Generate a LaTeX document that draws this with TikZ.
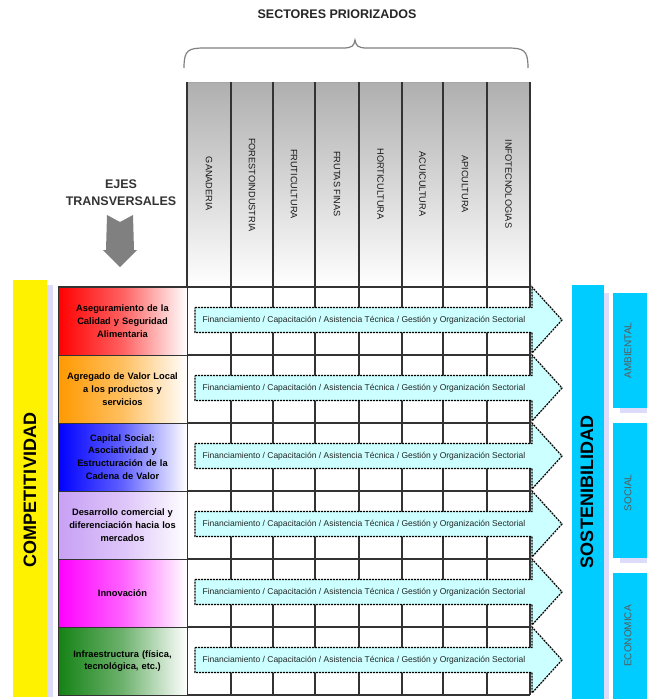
\documentclass[tikz,border=0pt]{standalone}
\usepackage{fontspec}
\setmainfont{Liberation Sans}
\definecolor{hdrgray}{RGB}{175,175,175}
\definecolor{arrowfill}{RGB}{204,255,255}
\definecolor{sosblue}{RGB}{0,204,255}
\definecolor{shadowlav}{RGB}{220,220,250}
\definecolor{rowred}{RGB}{255,0,0}
\definecolor{roworange}{RGB}{255,153,0}
\definecolor{rowblue}{RGB}{0,0,255}
\definecolor{rowlav}{RGB}{200,160,245}
\definecolor{rowmag}{RGB}{255,0,255}
\definecolor{rowgreen}{RGB}{20,130,20}
\begin{document}
\begin{tikzpicture}[x=1pt,y=-1pt,
  gridline/.style={line width=1.2pt,black!80},
  rowlab/.style={draw=black!80,line width=1pt,minimum width=129pt,minimum height=68pt,inner sep=1pt,
     left color=#1,right color=white,middle color=#1!62!white,
     align=center,font=\bfseries\fontsize{9.3}{12.8}\selectfont,text width=127pt},
  colhead/.style={rotate=-90,font=\fontsize{9.2}{9.2}\selectfont,text=black!90},
  flowarrow/.style={fill=arrowfill,draw=black,line width=1.2pt,dash pattern=on 2pt off 1pt},
  flowtext/.style={font=\fontsize{8.5}{8.5}\selectfont,text=black!85,inner sep=0pt},
  bigtext/.style={rotate=90,font=\bfseries\fontsize{18}{18}\selectfont},
  smalltext/.style={rotate=90,font=\fontsize{10}{10}\selectfont,text=black!65},
]
\useasboundingbox (0,0) rectangle (647,699);

% title and brace
\node[font=\bfseries\fontsize{12.5}{12.5}\selectfont,text=black!85] (title) at (337,14) {SECTORES PRIORIZADOS};
\draw[gray,line width=1.2pt] (184,68) .. controls (184,50) and (188,48) .. (205,48) -- (343,48)
  .. controls (352,48) and (354,46) .. (355,40) .. controls (356,46) and (358,48) .. (367,48)
  -- (507,48) .. controls (524,48) and (528,50) .. (528,68);

% header shading
\shade[top color=hdrgray,bottom color=white] (187,82) rectangle (530,287);
\draw[black!35,line width=1pt] (187,82) -- (530,82);

% grid
\foreach \x in {187,231,273,315,359,402,443,487,530}
  \draw[gridline] (\x,82) -- (\x,695);
\foreach \y in {287,355,423,491,559,627,695}
  \draw[gridline] (58,\y) -- (530,\y);

% column headers
\node[colhead] (c1) at (209,184) {GANADERIA};
\node[colhead] (c2) at (252,185) {FORESTOINDUSTRIA};
\node[colhead] (c3) at (294,184) {FRUTICULTURA};
\node[colhead] (c4) at (337,184) {FRUTAS FINAS};
\node[colhead] (c5) at (380.5,184) {HORTICULTURA};
\node[colhead] (c6) at (422.5,184) {ACUICULTURA};
\node[colhead] (c7) at (465,184) {APICULTURA};
\node[colhead] (c8) at (508.5,184) {INFOTECNOLOGIAS};

% ejes transversales
\node[font=\bfseries\fontsize{12.5}{17}\selectfont,align=center,text=black!80] (ejes) at (121,193) {EJES\\TRANSVERSALES};
\fill[gray] (107,215) -- (120,222) -- (133,215) -- (134,250) -- (137,250) -- (120,267) -- (103,250) -- (106,250) -- cycle;

% left bar
\fill[shadowlav] (47,285) rectangle (53,697);
\node[fill=yellow,minimum width=34pt,minimum height=417pt,inner sep=0pt] (compbar) at (30,488.5) {};
\node[bigtext] (comp) at (30,490) {COMPETITIVIDAD};

% row labels
\node[rowlab=rowred] (r1) at (122.5,321) {Aseguramiento de la\\Calidad y Seguridad\\Alimentaria};
\node[rowlab=roworange] (r2) at (122.5,389) {Agregado de Valor Local\\a los productos y\\servicios};
\node[rowlab=rowblue] (r3) at (122.5,457) {Capital Social:\\Asociatividad y\\Estructuración de la\\Cadena de Valor};
\node[rowlab=rowlav] (r4) at (122.5,525) {Desarrollo comercial y\\diferenciación hacia los\\mercados};
\node[rowlab=rowmag] (r5) at (122.5,593) {Innovación};
\node[rowlab=rowgreen] (r6) at (122.5,661) {Infraestructura (física,\\tecnológica, etc.)};

% flow arrows
\foreach \m/\n in {320/1,388/2,456/3,524/4,592/5,660/6}{
  \draw[flowarrow] (195,\m-12.5) -- (532,\m-12.5) -- (532,\m-33) -- (562,\m) -- (532,\m+33)
     -- (532,\m+12.5) -- (195,\m+12.5) -- cycle;
  \node[flowtext] (f\n) at (364,\m) {Financiamiento / Capacitación / Asistencia Técnica / Gestión y Organización Sectorial};
}

% right bar
\fill[shadowlav] (604,293) rectangle (609,699);
\node[fill=sosblue,minimum width=32pt,minimum height=414pt,inner sep=0pt] (sosbar) at (588,492) {};
\node[bigtext] (sos) at (587,492) {SOSTENIBILIDAD};

\fill[shadowlav] (620,408) rectangle (647,413);
\fill[shadowlav] (620,558) rectangle (647,563);
\node[fill=sosblue,minimum width=34pt,minimum height=115pt,inner sep=0pt] (amb) at (630,350.5) {};
\node[fill=sosblue,minimum width=34pt,minimum height=135pt,inner sep=0pt] (soc) at (630,490.5) {};
\node[fill=sosblue,minimum width=34pt,minimum height=126pt,inner sep=0pt] (eco) at (630,636) {};
\node[smalltext] (ambt) at (628,350.5) {AMBIENTAL};
\node[smalltext] (soct) at (628,493) {SOCIAL};
\node[smalltext] (ecot) at (628,636) {ECONOMICA};
\end{tikzpicture}
\end{document}
